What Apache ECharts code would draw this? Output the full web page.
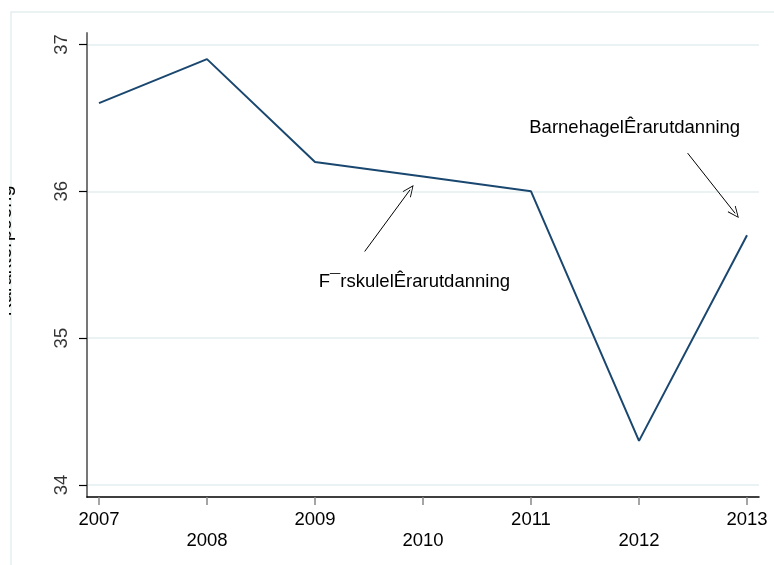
<!DOCTYPE html>
<html>
<head>
<meta charset="utf-8">
<script src="https://cdn.jsdelivr.net/npm/echarts@6/dist/echarts.min.js"></script>
<style>html,body{margin:0;padding:0;background:#fff;}#c{width:774px;height:565px;}</style>
</head>
<body>
<div id="c"></div>
<script>
const years = [2007, 2008, 2009, 2010, 2011, 2012, 2013];
const values = [36.6, 36.9, 36.2, 36.1, 36.0, 34.3, 35.7];
const yTicks = [34, 35, 36, 37];
const yTitle = 'Karakterpoeng';
const noteTexts = ['BarnehagelÊrarutdanning', 'F¯rskulelÊrarutdanning'];
const notePos = [[2011.96, 36.43], [2009.92, 35.38]];
const arrowFrom = [[2012.45, 36.26], [2009.46, 35.59]];
const arrowTo = [[2012.89, 35.85], [2009.88, 36.01]];

const X_MIN = 2006.889, X_MAX = 2013.111;
const Y_MIN = 33.918, Y_MAX = 37.078;
const FONT = "'Liberation Sans', Arial, sans-serif";
const FS = 18.5;
const chevron = 'path://M0,0 L5,10 L4.3,10.5 L0,1.8 L-4.3,10.5 L-5,10 Z';

const chart = echarts.init(document.getElementById('c'), null, {renderer: 'canvas'});
chart.setOption({
  animation: false,
  backgroundColor: '#fff',
  graphic: [{
    type: 'rect', silent: true, z: -10,
    shape: {x: 11, y: 12, width: 900, height: 700},
    style: {fill: 'none', stroke: '#e4eef0', lineWidth: 1.5}
  }, {
    type: 'rect', silent: true, z: 100,
    shape: {x: 0, y: 0, width: 9, height: 565},
    style: {fill: '#fff'}
  }],
  grid: {left: 87, right: 15, top: 33, bottom: 68, containLabel: false, outerBoundsMode: 'none'},
  xAxis: {
    type: 'value',
    min: X_MIN, max: X_MAX,
    splitLine: {show: false},
    axisLine: {show: true, onZero: false, lineStyle: {color: '#000', width: 1.5}},
    axisTick: {show: true, customValues: years, length: 8, lineStyle: {color: '#888', width: 1.5}},
    axisLabel: {
      customValues: years, margin: 12, color: '#000', fontFamily: FONT, fontSize: FS, lineHeight: 21,
      formatter: v => ((v - years[0]) % 2 ? '\n' : '') + v
    }
  },
  yAxis: {
    type: 'value',
    min: Y_MIN, max: Y_MAX,
    name: yTitle, nameLocation: 'middle', nameRotate: 90, nameGap: 72,
    nameTextStyle: {color: '#000', fontFamily: FONT, fontSize: 20, padding: [0, 0, 0, 28]},
    axisLine: {show: true, onZero: false, lineStyle: {color: '#777', width: 2}},
    axisTick: {show: true, customValues: yTicks, length: 8, lineStyle: {color: '#000', width: 1.2}},
    axisLabel: {show: false, customValues: yTicks},
    splitLine: {show: true, lineStyle: {color: '#eaf2f3', width: 2}}
  },
  series: [{
    type: 'line',
    data: years.map((y, i) => [y, values[i]]),
    showSymbol: false,
    lineStyle: {color: '#1a476f', width: 2},
    markLine: {
      silent: true, animation: false,
      symbol: ['none', chevron], symbolSize: [10, 12],
      lineStyle: {color: '#000', width: 1, type: 'solid'},
      label: {show: false},
      emphasis: {disabled: true},
      data: arrowFrom.map((f, i) => [{coord: f}, {coord: arrowTo[i]}])
    },
    markPoint: {
      silent: true, animation: false,
      symbol: 'rect', symbolSize: 0,
      label: {show: true, position: 'inside', formatter: '{b}', color: '#000', fontFamily: FONT, fontSize: FS},
      data: noteTexts.map((t, i) => ({name: t, coord: notePos[i]}))
    }
  }, {
    // rotated y tick labels, placed through the axes
    type: 'scatter', silent: true,
    data: yTicks.map(v => [X_MIN, v]),
    symbolSize: 0,
    label: {
      show: true, position: [-25, 0], align: 'center', verticalAlign: 'middle', rotate: 90,
      formatter: p => String(p.value[1]), color: '#000', fontFamily: FONT, fontSize: FS
    },
    emphasis: {disabled: true},
    clip: false
  }]
});
</script>
</body>
</html>
